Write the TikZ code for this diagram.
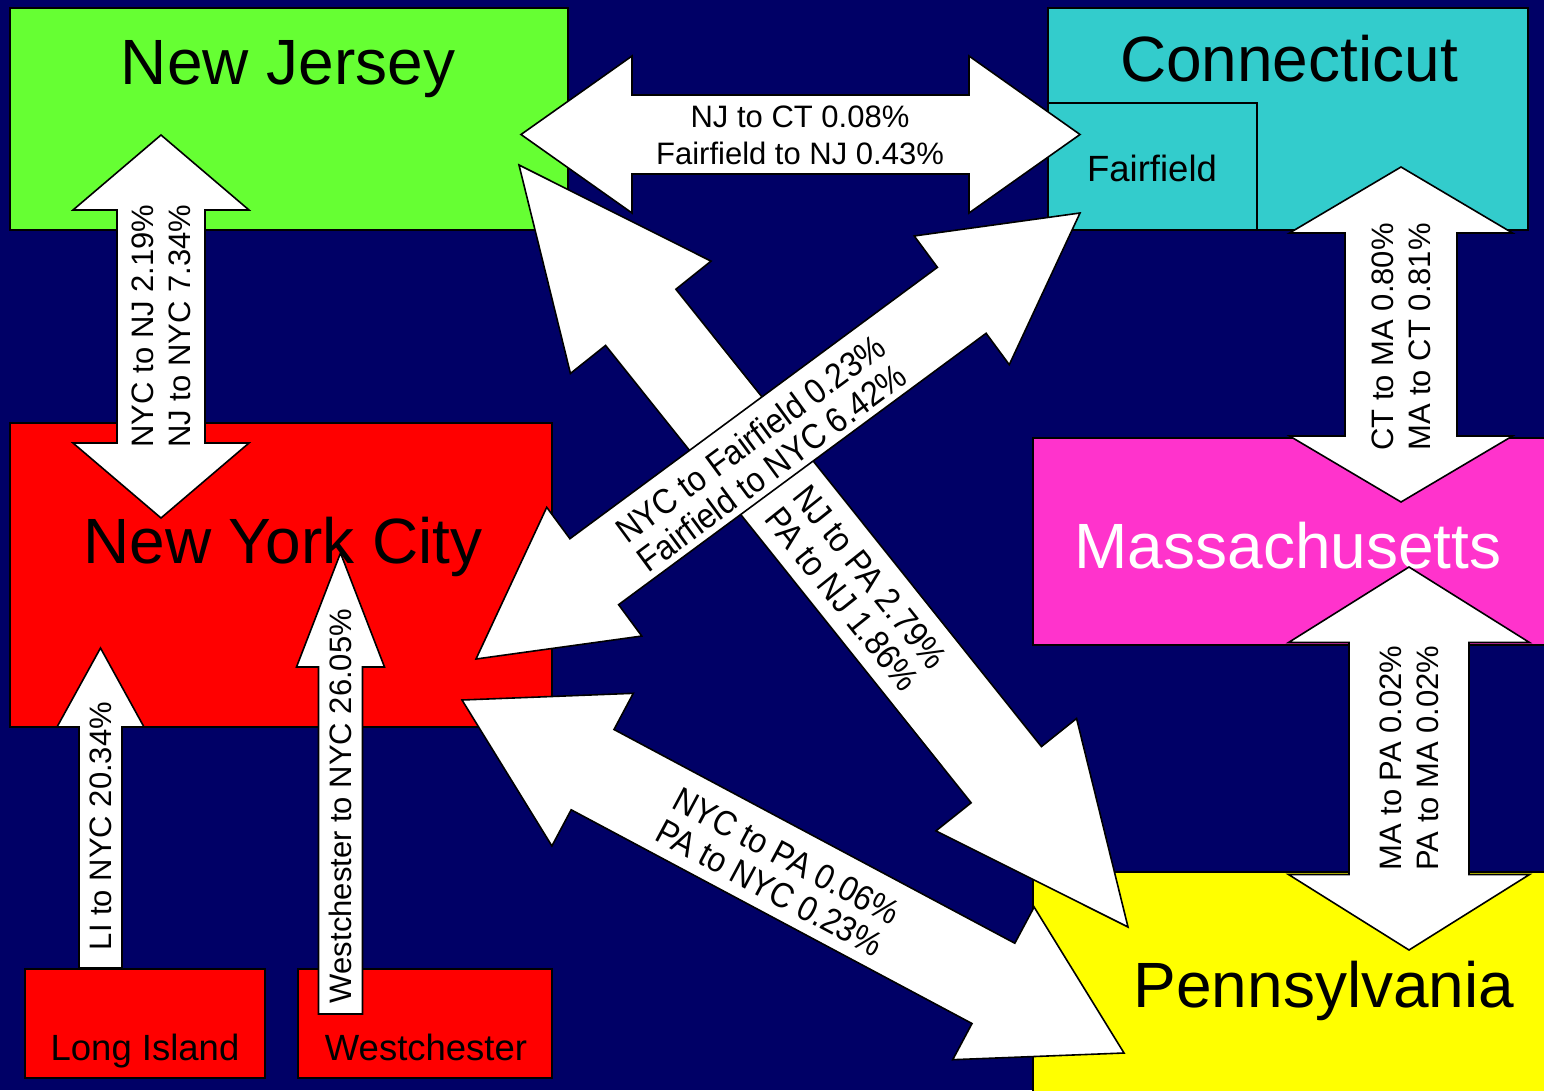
\documentclass[tikz,border=0pt]{standalone}
\usepackage{fontspec}
\setmainfont{Liberation Sans}
\usetikzlibrary{calc}

\definecolor{navybg}{RGB}{0,0,102}
\definecolor{njgreen}{RGB}{102,255,51}
\definecolor{ctcyan}{RGB}{51,204,204}
\definecolor{nycred}{RGB}{255,0,0}
\definecolor{mamagenta}{RGB}{255,51,204}
\definecolor{payellow}{RGB}{255,255,0}

\begin{document}
\begin{tikzpicture}[x=1pt, y=-1pt, line join=miter,
		region/.style={draw=black, line width=1.8pt, inner sep=0pt, outer sep=0pt, anchor=north west},
		flow/.style={fill=white, draw=black, line width=1.6pt},
		statename/.style={font=\fontsize{64}{70}\selectfont, anchor=base, inner sep=0pt},
		countyname/.style={font=\fontsize{36.5}{40}\selectfont, anchor=base, inner sep=0pt},
		flowtext/.style={font=\fontsize{31}{37}\selectfont, align=center, inner sep=0pt},
		diagtext/.style={font=\fontsize{35}{36}\selectfont, align=center, inner sep=0pt, xscale=0.91}]
		% block arrow with two heads: tips #1 #2, head length #3, head half width #4, shaft half width #5
		\def\dblarrow#1#2#3#4#5{
			\filldraw[flow] (#1)
				-- ($(#1)!#3!(#2)!#4!90:(#2)$) -- ($(#1)!#3!(#2)!#5!90:(#2)$)
				-- ($(#2)!#3!(#1)!#5!-90:(#1)$) -- ($(#2)!#3!(#1)!#4!-90:(#1)$)
				-- (#2)
				-- ($(#2)!#3!(#1)!#4!90:(#1)$) -- ($(#2)!#3!(#1)!#5!90:(#1)$)
				-- ($(#1)!#3!(#2)!#5!-90:(#2)$) -- ($(#1)!#3!(#2)!#4!-90:(#2)$)
				-- cycle;
		}
		% block arrow with one head: tail #1, tip #2
		\def\sglarrow#1#2#3#4#5{
			\filldraw[flow] ($(#1)!#5!90:(#2)$)
				-- ($(#2)!#3!(#1)!#5!-90:(#1)$) -- ($(#2)!#3!(#1)!#4!-90:(#1)$)
				-- (#2)
				-- ($(#2)!#3!(#1)!#4!90:(#1)$) -- ($(#2)!#3!(#1)!#5!90:(#1)$)
				-- ($(#1)!#5!-90:(#2)$) -- cycle;
		}
		
		\useasboundingbox (0,0) rectangle (1544,1090);
		\fill[navybg] (0,0) rectangle (1544,1090);
		\clip (0,0) rectangle (1544,1090);
		
		% regions
		\node[region, fill=njgreen, minimum width=558pt, minimum height=222pt] (nj) at (10,8) {};
		\node[region, fill=ctcyan, minimum width=480pt, minimum height=222pt] (ct) at (1048,8) {};
		\node[region, fill=ctcyan, minimum width=209pt, minimum height=127pt] (ff) at (1048,103) {};
		\node[region, fill=nycred, minimum width=542pt, minimum height=304pt] (nyc) at (10,423) {};
		\node[region, fill=mamagenta, minimum width=530pt, minimum height=207pt] (ma) at (1033,438) {};
		\node[region, fill=payellow, minimum width=530pt, minimum height=240pt] (pa) at (1033,872) {};
		\node[region, fill=nycred, minimum width=240pt, minimum height=109pt] (li) at (25,969) {};
		\node[region, fill=nycred, minimum width=254pt, minimum height=109pt] (wc) at (298,969) {};
		
		\node[statename] (njname) at (288,84) {New Jersey};
		\node[statename] (ctname) at (1289,81) {Connecticut};
		\node[statename] (nycname) at (283,563) {New York City};
		\node[statename, text=white] (maname) at (1288,568) {Massachusetts};
		\node[statename] (paname) at (1324,1007) {Pennsylvania};
		\node[countyname] (ffname) at (1152,181) {Fairfield};
		\node[countyname] (liname) at (145,1060) {Long Island};
		\node[countyname] (wcname) at (426,1060) {Westchester};
		
		% arrow ends
		\coordinate (li-tail) at (100.5,968);
		\coordinate (li-tip) at (100.5,648);
		\coordinate (wc-tail) at (340.5,1014);
		\coordinate (wc-tip) at (340.5,553);
		\coordinate (njnyc-n) at (161,135);
		\coordinate (njnyc-s) at (161,518);
		\coordinate (njct-w) at (521,134.5);
		\coordinate (njct-e) at (1080,134.5);
		\coordinate (ctma-n) at (1401,167);
		\coordinate (ctma-s) at (1401,502);
		\coordinate (mapa-n) at (1409,567);
		\coordinate (mapa-s) at (1409,950);
		\coordinate (nycpa-w) at (462,700);
		\coordinate (nycpa-e) at (1124,1053);
		\coordinate (njpa-w) at (519,165);
		\coordinate (njpa-e) at (1128,927);
		\coordinate (nycct-w) at (476,659);
		\coordinate (nycct-e) at (1080,213);
		
		% flows
		\sglarrow{li-tail}{li-tip}{79pt}{43.5pt}{21.5pt}
		\node[flowtext, rotate=90] (litext) at (100.5,826) {LI to NYC 20.34\%};
		
		\sglarrow{wc-tail}{wc-tip}{114pt}{44pt}{22pt}
		\node[flowtext, rotate=90] (wctext) at (340.5,806) {Westchester to NYC 26.05\%};
		
		\dblarrow{njnyc-n}{njnyc-s}{75pt}{88pt}{44pt}
		\node[flowtext, rotate=90] (njnyctext) at (161,326) {NYC to NJ 2.19\%\\NJ to NYC 7.34\%};
		
		\dblarrow{njct-w}{njct-e}{111pt}{78.5pt}{39.5pt}
		\node[flowtext] (njcttext) at (800,135) {NJ to CT 0.08\%\\Fairfield to NJ 0.43\%};
		
		\dblarrow{ctma-n}{ctma-s}{66pt}{111.5pt}{56pt}
		\node[flowtext, rotate=90] (ctmatext) at (1401,337) {CT to MA 0.80\%\\MA to CT 0.81\%};
		
		\dblarrow{mapa-n}{mapa-s}{75.5pt}{120.5pt}{60pt}
		\node[flowtext, rotate=90] (mapatext) at (1409,758) {MA to PA 0.02\%\\PA to MA 0.02\%};
		
		\dblarrow{nycpa-w}{nycpa-e}{148pt}{86.5pt}{45.5pt}
		\node[rotate=-28.1, diagtext] (nycpatext) at (778,872) {NYC to PA 0.06\%\\PA to NYC 0.23\%};
		
		\dblarrow{njpa-w}{njpa-e}{195pt}{90pt}{45pt}
		\node[rotate=-51.4, diagtext] (njpatext) at (856,588) {NJ to PA 2.79\%\\PA to NJ 1.86\%};
		
		\dblarrow{nycct-w}{nycct-e}{147pt}{80pt}{41pt}
		\node[rotate=36.4, diagtext] (nyccttext) at (761,453) {NYC to Fairfield 0.23\%\\Fairfield to NYC 6.42\%};
	\end{tikzpicture}
\end{document}
